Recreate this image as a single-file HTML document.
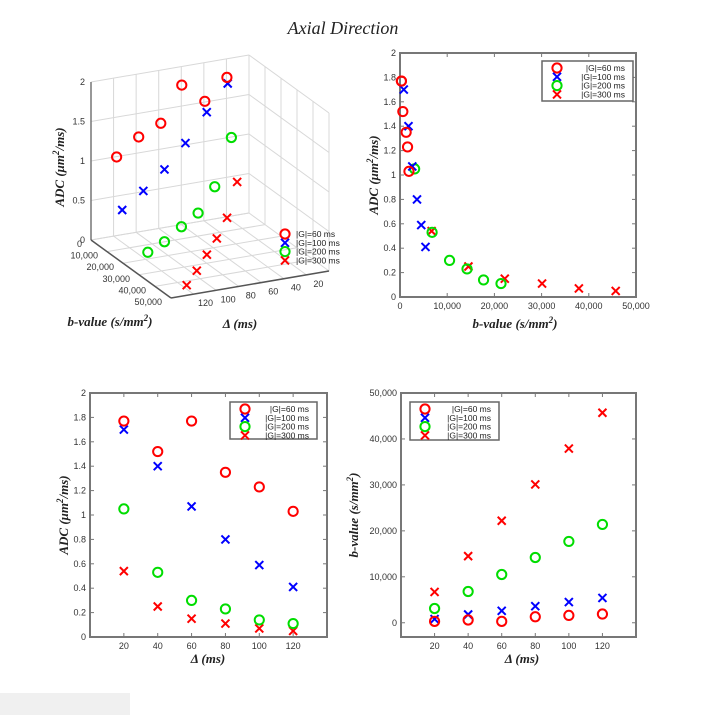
<!DOCTYPE html>
<html><head><meta charset="utf-8"><style>
body{margin:0;background:#fff;width:703px;height:716px;overflow:hidden}
svg{display:block}
.tk{font-family:"Liberation Sans",sans-serif;font-size:9px;fill:#333}
.ti{font-family:"Liberation Serif",serif;font-size:13px;font-weight:bold;font-style:italic;fill:#222}
.lg{font-family:"Liberation Sans",sans-serif;font-size:8.5px;fill:#222}
</style></head><body>
<svg id="s" width="703" height="716">
<rect x="0" y="693" width="130" height="22" fill="#f0f0f0"/>
<text x="343" y="34" text-anchor="middle" font-family="Liberation Serif,serif" font-style="italic" font-size="18" fill="#222">Axial Direction</text>
</svg>
<script>
const deltas=[20,40,60,80,100,120];
const groups=["|G|=60 ms","|G|=100 ms","|G|=200 ms","|G|=300 ms"];
const adcG60=[1.77,1.52,1.77,1.35,1.23,1.03];
const adcG100=[1.70,1.40,1.07,0.80,0.59,0.41];
const adcG200=[1.05,0.53,0.30,0.23,0.14,0.11];
const adcG300=[0.54,0.25,0.15,0.11,0.07,0.05];
const bG60=[300,600,300,1300,1600,1900];
const bG100=[800,1800,2600,3600,4500,5400];
const bG200=[3100,6800,10500,14200,17700,21400];
const bG300=[6700,14500,22200,30100,37900,45700];
const adcTicks=[0,0.2,0.4,0.6,0.8,1,1.2,1.4,1.6,1.8,2];
const bTicks=[0,10000,20000,30000,40000,50000];
const adc3Ticks=[0,0.5,1,1.5,2];
const dTicks=[20,40,60,80,100,120];

const ADC=[adcG60,adcG100,adcG200,adcG300];
const BV=[bG60,bG100,bG200,bG300];
const COL=["#f00","#00f","#0d0","#f00"];
const SHP=["o","x","o","x"];
const S=document.getElementById('s');
const NS='http://www.w3.org/2000/svg';
function el(t,a,txt){const e=document.createElementNS(NS,t);for(const k in a)e.setAttribute(k,a[k]);if(txt!==undefined)e.textContent=txt;S.appendChild(e);return e;}
function fmt(v){return v.toLocaleString('en-US');}
function marker(x,y,i){
  let e;
  if(SHP[i]==="o"){e=el('circle',{cx:x,cy:y,r:4.6,fill:'none',stroke:COL[i],'stroke-width':2});}
  else{e=el('path',{d:`M${x-4} ${y-4}L${x+4} ${y+4}M${x-4} ${y+4}L${x+4} ${y-4}`,stroke:COL[i],'stroke-width':2});}
  
  
}
function legend(x,y,w,h,nm){
  const r=el('rect',{x:x,y:y,width:w,height:h,fill:'#fff',stroke:'#666','stroke-width':1.5});
  
  
  groups.forEach((g,i)=>{const yy=y+7+i*8.8;marker(x+15,yy,i);
    const t=el('text',{x:x+w-8,y:yy+3,'text-anchor':'end',class:'lg'},g);
    
    });
}
function title(x,y,txt,rot,nm){
  const t=el('text',{x:x,y:y,'text-anchor':'middle',class:'ti',transform:rot?`rotate(-90 ${x} ${y})`:''});
  
  
  const parts=txt.split('^2');
  t.appendChild(document.createTextNode(parts[0]));
  if(parts.length>1){const s=document.createElementNS(NS,'tspan');s.setAttribute('dy','-5');s.setAttribute('font-size','9');s.textContent='2';t.appendChild(s);
    const r=document.createElementNS(NS,'tspan');r.setAttribute('dy','5');r.textContent=parts[1];t.appendChild(r);}
}
function axes2d(L,T,R,B,xmin,xmax,ymin,ymax,xt,yt,nm){
  const X=v=>L+(v-xmin)/(xmax-xmin)*(R-L), Y=v=>B-(v-ymin)/(ymax-ymin)*(B-T);
  const r=el('rect',{x:L,y:T,width:R-L,height:B-T,fill:'none',stroke:'#777','stroke-width':2});
  
  
  xt.forEach(v=>{el('line',{x1:X(v),x2:X(v),y1:B,y2:B-4,stroke:'#777'});el('line',{x1:X(v),x2:X(v),y1:T,y2:T+4,stroke:'#777'});
    const t=el('text',{x:X(v),y:B+12,'text-anchor':'middle',class:'tk'},fmt(v));
    
    });
  yt.forEach(v=>{el('line',{x1:L,x2:L+4,y1:Y(v),y2:Y(v),stroke:'#777'});el('line',{x1:R,x2:R-4,y1:Y(v),y2:Y(v),stroke:'#777'});
    const t=el('text',{x:L-4,y:Y(v)+3,'text-anchor':'end',class:'tk'},fmt(v));
    
    });
  return [X,Y];
}
// top-right: ADC vs b
let [X1,Y1]=axes2d(400,53,636,297,0,50000,0,2,bTicks,adcTicks,'adc-vs-b');
for(let i=3;i>=0;i--)deltas.forEach((d,j)=>marker(X1(BV[i][j]),Y1(ADC[i][j]),i));
legend(542,61,91,40,'legend-adc-vs-b');
title(378,175,'ADC (μm^2/ms)',true,'y-axis-title-adc-vs-b');
title(515,328,'b-value (s/mm^2)',false,'x-axis-title-adc-vs-b');
// bottom-left: ADC vs delta
let [X2,Y2]=axes2d(90,393,327,637,0,140,0,2,dTicks,adcTicks,'adc-vs-delta');
for(let i=3;i>=0;i--)deltas.forEach((d,j)=>marker(X2(d),Y2(ADC[i][j]),i));
legend(230,402,87,37,'legend-adc-vs-delta');
title(68,515,'ADC (μm^2/ms)',true,'y-axis-title-adc-vs-delta');
title(208,663,'Δ (ms)',false,'x-axis-title-adc-vs-delta');
// bottom-right: b vs delta
let [X3,Y3]=axes2d(401,393,636,637,0,140,-3100,50000,dTicks,bTicks,'b-vs-delta');
for(let i=3;i>=0;i--)deltas.forEach((d,j)=>marker(X3(d),Y3(BV[i][j]),i));
legend(410,402,89,38,'legend-b-vs-delta');
title(358,515,'b-value (s/mm^2)',true,'y-axis-title-b-vs-delta');
title(522,663,'Δ (ms)',false,'x-axis-title-b-vs-delta');
// 3D
const O=[91,240];
function P(b,d,z){const fb=b/50000,fd=(140-d)/140;return [O[0]+fb*80+fd*158,O[1]+fb*58-fd*27-z*79];}
function ln(a,c,col,w,nm){const e=el('line',{x1:a[0],y1:a[1],x2:c[0],y2:c[1],stroke:col,'stroke-width':w||1});
  
  }
const gc='#d8d8d8';
dTicks.forEach(d=>{ln(P(0,d,0),P(0,d,2),gc);ln(P(0,d,0),P(50000,d,0),gc);});
bTicks.forEach(b=>{ln(P(b,0,0),P(b,0,2),gc);ln(P(b,140,0),P(b,0,0),gc);});
adc3Ticks.forEach(z=>{ln(P(0,140,z),P(0,0,z),gc);ln(P(0,0,z),P(50000,0,z),gc);});
ln(P(0,140,0),P(0,140,2),'#777',1.5,'z-axis');
ln(P(0,140,0),P(50000,140,0),'#555',1.5,'b-axis');
ln(P(50000,140,0),P(50000,0,0),'#555',1.5,'delta-axis');
adc3Ticks.forEach(z=>{const p=P(0,140,z);const t=el('text',{x:p[0]-6,y:p[1]+3,'text-anchor':'end',class:'tk'},String(z));
  
  });
bTicks.forEach(b=>{const p=P(b,140,0);const t=el('text',{x:p[0]-9,y:p[1]+7,'text-anchor':'end',class:'tk'},fmt(b));
  
  });
dTicks.forEach(d=>{const p=P(50000,d,0);const t=el('text',{x:p[0]+12,y:p[1]+12,'text-anchor':'middle',class:'tk'},String(d));
  
  });
for(let i=3;i>=0;i--)deltas.forEach((d,j)=>{const p=P(BV[i][j],d,ADC[i][j]);marker(p[0],p[1],i);});
// 3d legend (no box)
groups.forEach((g,i)=>{const yy=234+i*8.8;marker(285,yy,i);
  const t=el('text',{x:296,y:yy+3,class:'lg'},g);
  
  });
title(64,167,'ADC (μm^2/ms)',true,'z-axis-title-3d');
title(110,326,'b-value (s/mm^2)',false,'b-axis-title-3d');
title(240,328,'Δ (ms)',false,'delta-axis-title-3d');
</script>
</body></html>
